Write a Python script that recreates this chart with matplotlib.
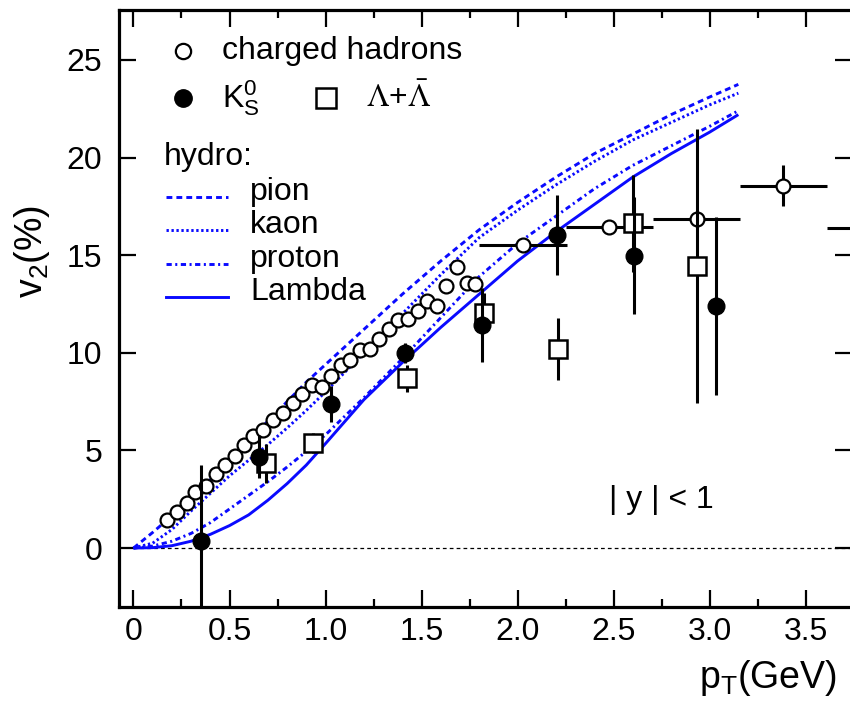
import numpy as np
import matplotlib
matplotlib.use('Agg')
from matplotlib import pyplot as plt
from matplotlib.lines import Line2D

plt.rcParams['font.family'] = ['Liberation Sans', 'DejaVu Sans']
plt.rcParams['mathtext.fontset'] = 'custom'
plt.rcParams['mathtext.rm'] = 'Liberation Sans'
plt.rcParams['mathtext.it'] = 'Liberation Sans:italic'

###############################################################################
# data

# charged hadrons, low pT (errors smaller than the symbols)
ch_pt = [0.173, 0.225, 0.277, 0.32, 0.378, 0.43, 0.477, 0.529, 0.576, 0.624,
         0.676, 0.728, 0.78, 0.829, 0.876, 0.928, 0.98, 1.027, 1.079, 1.128,
         1.18, 1.232, 1.28, 1.332, 1.38, 1.43, 1.48, 1.53, 1.58, 1.63,
         1.683, 1.735, 1.78]
ch_v2 = [1.43, 1.86, 2.29, 2.88, 3.18, 3.79, 4.25, 4.71, 5.28, 5.75,
         6.04, 6.56, 6.93, 7.44, 7.89, 8.35, 8.23, 8.81, 9.38, 9.63,
         10.14, 10.18, 10.69, 11.2, 11.68, 11.72, 12.16, 12.67, 12.4, 13.42,
         14.41, 13.59, 13.5]

# charged hadrons, high pT (binned)
chh_pt = [2.03, 2.478, 2.933, 3.385, 3.835]
chh_v2 = [15.52, 16.46, 16.85, 18.55, 16.4]
chh_xerr = [0.23, 0.225, 0.225, 0.225, 0.225]
chh_yerr = [0.3, 0.3, 0.4, 1.05, 0.5]

# K0s
k0s_pt = [0.352, 0.655, 1.027, 1.414, 1.814, 2.207, 2.607, 3.034]
k0s_v2 = [0.36, 4.68, 7.38, 10.0, 11.42, 16.03, 14.97, 12.41]
k0s_err = [3.9, 1.1, 0.9, 0.5, 1.9, 2.05, 3.0, 4.55]

# Lambda + anti-Lambda
lam_pt = [0.69, 0.933, 1.426, 1.827, 2.212, 2.6, 2.933]
lam_v2 = [4.34, 5.39, 8.69, 12.05, 10.2, 16.63, 14.45]
lam_err = [1.0, 0.5, 0.7, 1.0, 1.6, 2.5, 7.0]

# hydro curves
hydro_pt = [0, 0.1, 0.2, 0.3, 0.4, 0.5, 0.6, 0.7, 0.8, 0.9, 1.0,
            1.2, 1.4, 1.6, 1.8, 2.0, 2.2, 2.4, 2.6, 2.8, 3.0, 3.15]
hydro_pion = [0, 0.8, 1.65, 2.55, 3.5, 4.5, 5.5, 6.5, 7.5, 8.5, 9.4,
              11.2, 13.0, 14.7, 16.3, 17.7, 19.0, 20.2, 21.2, 22.2, 23.1, 23.75]
hydro_kaon = [0, 0.25, 0.95, 1.9, 2.8, 3.7, 4.5, 5.3, 6.15, 7.05, 8.0,
              10.0, 12.0, 14.0, 15.9, 17.3, 18.6, 19.8, 20.9, 21.8, 22.7, 23.3]
hydro_proton = [0, 0.1, 0.35, 0.75, 1.3, 2.0, 2.7, 3.4, 4.15, 4.95, 5.8,
                7.7, 9.7, 11.8, 13.9, 15.6, 17.0, 18.4, 19.6, 20.6, 21.6, 22.4]
hydro_lambda = [0, 0.02, 0.12, 0.35, 0.7, 1.15, 1.7, 2.45, 3.3, 4.25, 5.35,
                7.6, 9.5, 11.3, 13.0, 14.7, 16.2, 17.6, 19.0, 20.2, 21.3, 22.2]

xtick_vals = [0, 0.5, 1.0, 1.5, 2.0, 2.5, 3.0, 3.5]
xtick_labels = ['0', '0.5', '1.0', '1.5', '2.0', '2.5', '3.0', '3.5']
ytick_vals = [0, 5, 10, 15, 20, 25]

###############################################################################

W, H = 850, 706
def fx(px):
    return px / float(W)
def fy(py):
    return 1.0 - py / float(H)

blue = '#0a0aff'
lw = 2.1
styles = {
    'pion': (0, (2.0, 1.4)),
    'kaon': (0, (0.8, 0.9)),
    'proton': (0, (1.8, 1.2, 0.7, 1.2)),
    'Lambda': '-',
}

fig = plt.figure(figsize=(W / 100., H / 100.), dpi=100, facecolor='w')
ax = fig.add_axes([fx(119), fy(607), fx(852) - fx(119), fy(10) - fy(607)])

ax.set_xlim(-0.0755, 3.742)
ax.set_ylim(-3.02, 27.56)

# zero line
ax.hlines(0, 0, 3.742, colors='k', linestyles=(0, (3, 2.5)), linewidth=0.9, zorder=1)

# hydro curves
for name, vals in [('pion', hydro_pion), ('kaon', hydro_kaon),
                   ('proton', hydro_proton), ('Lambda', hydro_lambda)]:
    ax.plot(hydro_pt, vals, color=blue, linestyle=styles[name], linewidth=lw,
            zorder=2, solid_capstyle='butt')

# charged hadrons
ax.plot(ch_pt, ch_v2, 'o', ms=10, mfc='w', mec='k', mew=1.6, zorder=3)
ax.errorbar(chh_pt, chh_v2, xerr=chh_xerr, yerr=chh_yerr, fmt='o', ms=10,
            mfc='w', mec='k', mew=1.6, ecolor='k', elinewidth=2.2, capsize=0,
            zorder=3)

# Lambda
ax.errorbar(lam_pt, lam_v2, yerr=lam_err, fmt='s', ms=13, mfc='w', mec='k',
            mew=1.8, ecolor='k', elinewidth=2.2, capsize=0, zorder=4)

# K0s
ax.errorbar(k0s_pt, k0s_v2, yerr=k0s_err, fmt='o', ms=12, mfc='k', mec='k',
            ecolor='k', elinewidth=2.2, capsize=0, zorder=5)

# axes styling
for s in ax.spines.values():
    s.set_linewidth(2.3)
ax.set_xticks(xtick_vals)
ax.set_xticklabels(xtick_labels)
ax.set_xticks(np.arange(0.25, 3.75, 0.5), minor=True)
ax.set_yticks(ytick_vals)
ax.yaxis.set_minor_locator(matplotlib.ticker.NullLocator())
ax.tick_params(which='both', direction='in', top=True, right=True,
               labelsize=23, width=1.6)
ax.tick_params(which='major', length=12)
ax.tick_params(which='minor', length=6)
ax.tick_params(axis='y', pad=12)
ax.tick_params(axis='x', pad=7)

# axis labels
fig.text(fx(32), fy(252), r'v$_2$(%)', rotation=90, ha='center', va='center',
         fontsize=27)
fig.text(fx(837), fy(678), r'p$_\mathrm{T}$(GeV)', ha='right', va='center',
         fontsize=27)

# legend, drawn by hand
fsz = 23
fig.add_artist(Line2D([fx(183)], [fy(51)], marker='o', ms=11, mfc='w', mec='k', mew=1.6))
fig.text(fx(222), fy(51), 'charged hadrons', ha='left', va='center', fontsize=fsz)
fig.add_artist(Line2D([fx(183)], [fy(98)], marker='o', ms=12.5, mfc='k', mec='k'))
fig.text(fx(222), fy(98), r'K$^0_\mathrm{S}$', ha='left', va='center', fontsize=fsz)
fig.add_artist(Line2D([fx(326)], [fy(98)], marker='s', ms=15, mfc='w', mec='k', mew=1.8))
fig.text(fx(366), fy(98), r'$\mathrm{\Lambda}$+$\mathrm{\bar{\Lambda}}$', ha='left',
         va='center', fontsize=fsz, math_fontfamily='stix')

fig.text(fx(164), fy(157), 'hydro:', ha='left', va='center', fontsize=fsz)
rows = [('pion', 197, 192), ('kaon', 230, 225), ('proton', 264, 259), ('Lambda', 297, 292)]
for name, ly, ty in rows:
    fig.add_artist(Line2D([fx(166), fx(228)], [fy(ly), fy(ly)], color=blue,
                          linestyle=styles[name], linewidth=lw))
    fig.text(fx(250), fy(ty), name, ha='left', va='center', fontsize=fsz)

ax.text(2.75, 2.45, '| y | < 1', ha='center', va='center', fontsize=23)

fig.savefig('out.png', dpi=100)
plt.close(fig)
